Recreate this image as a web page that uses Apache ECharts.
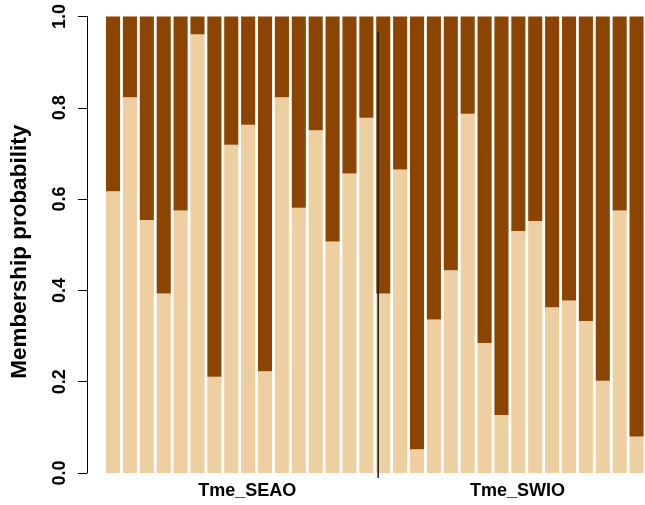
<!DOCTYPE html>
<html>
<head>
<meta charset="utf-8">
<script src="https://cdn.jsdelivr.net/npm/echarts@6/dist/echarts.min.js"></script>
<style>html,body{margin:0;padding:0;background:#fff;}#c{width:645px;height:505px;}</style>
</head>
<body>
<div id="c"></div>
<script>
var individuals = [];
for (var i = 1; i <= 32; i++) individuals.push('ind' + i);
var groups = ['Tme_SEAO', 'Tme_SWIO'];
var cluster1 = [0.617, 0.823, 0.554, 0.393, 0.575, 0.961, 0.211, 0.719, 0.763, 0.223, 0.823, 0.581, 0.751, 0.507, 0.656, 0.778,
                0.393, 0.665, 0.052, 0.336, 0.444, 0.787, 0.285, 0.127, 0.530, 0.552, 0.363, 0.378, 0.333, 0.202, 0.575, 0.080];
var cluster2 = [0.383, 0.177, 0.446, 0.607, 0.425, 0.039, 0.789, 0.281, 0.237, 0.777, 0.177, 0.419, 0.249, 0.493, 0.344, 0.222,
                0.607, 0.335, 0.948, 0.664, 0.556, 0.213, 0.715, 0.873, 0.470, 0.448, 0.637, 0.622, 0.667, 0.798, 0.425, 0.920];
var dividerAt = 16.2; // position between the two populations, in bar units
var dividerSpan = [0.967, -0.011];

var FONT = 'Liberation Sans, Arial, sans-serif';
var chart = echarts.init(document.getElementById('c'), null, {renderer: 'canvas'});
chart.setOption({
  animation: false,
  backgroundColor: '#ffffff',
  grid: [
    {left: 104.6, right: -4.9, top: 16.5, bottom: 32, containLabel: false},
    {left: 83, right: -4.9, top: 16.5, bottom: 32, containLabel: false}
  ],
  xAxis: [
    {type: 'category', gridIndex: 0, data: individuals, boundaryGap: true,
     axisLine: {show: false}, axisTick: {show: false}, axisLabel: {show: false}, splitLine: {show: false}},
    {type: 'value', gridIndex: 0, min: 0, max: 32, show: false},
    {type: 'category', gridIndex: 0, data: groups, position: 'bottom', boundaryGap: true,
     axisLine: {show: false}, axisTick: {show: false}, splitLine: {show: false},
     axisLabel: {show: true, margin: 9, padding: [0, 0, 0, 15], fontFamily: FONT,
                 fontWeight: 'bold', fontSize: 18, color: '#000'}},
    {type: 'value', gridIndex: 1, min: 0, max: 1, show: false}
  ],
  yAxis: [
    {type: 'value', gridIndex: 0, min: 0, max: 1, interval: 0.2, show: false},
    {type: 'value', gridIndex: 1, min: 0, max: 1, interval: 0.2,
     name: 'Membership probability', nameLocation: 'middle', nameRotate: 90, nameGap: 56,
     nameTextStyle: {fontFamily: FONT, fontWeight: 'bold', fontSize: 22.5, color: '#000', padding: [0, 14, 0, 0]},
     axisLine: {show: true, lineStyle: {color: '#000', width: 1}},
     axisTick: {show: true, length: 9, lineStyle: {color: '#000', width: 1}},
     splitLine: {show: false},
     axisLabel: {rotate: 90, margin: 18, fontFamily: FONT, fontWeight: 'bold',
                 fontSize: 18, color: '#000',
                 formatter: function (v) { return v.toFixed(1); }}}
  ],
  series: [
    {type: 'bar', name: 'cluster1', stack: 'q', data: cluster1, barCategoryGap: '16.7%',
     itemStyle: {color: '#EECFA1'}, xAxisIndex: 0, yAxisIndex: 0},
    {type: 'bar', name: 'cluster2', stack: 'q', data: cluster2, barCategoryGap: '16.7%',
     itemStyle: {color: '#8B4500'}, xAxisIndex: 0, yAxisIndex: 0},
    {type: 'line', xAxisIndex: 1, yAxisIndex: 0, clip: false, symbol: 'none',
     data: [[dividerAt, dividerSpan[0]], [dividerAt, dividerSpan[1]]],
     lineStyle: {color: '#1a1a1a', width: 1.5}}
  ]
});
</script>
</body>
</html>
